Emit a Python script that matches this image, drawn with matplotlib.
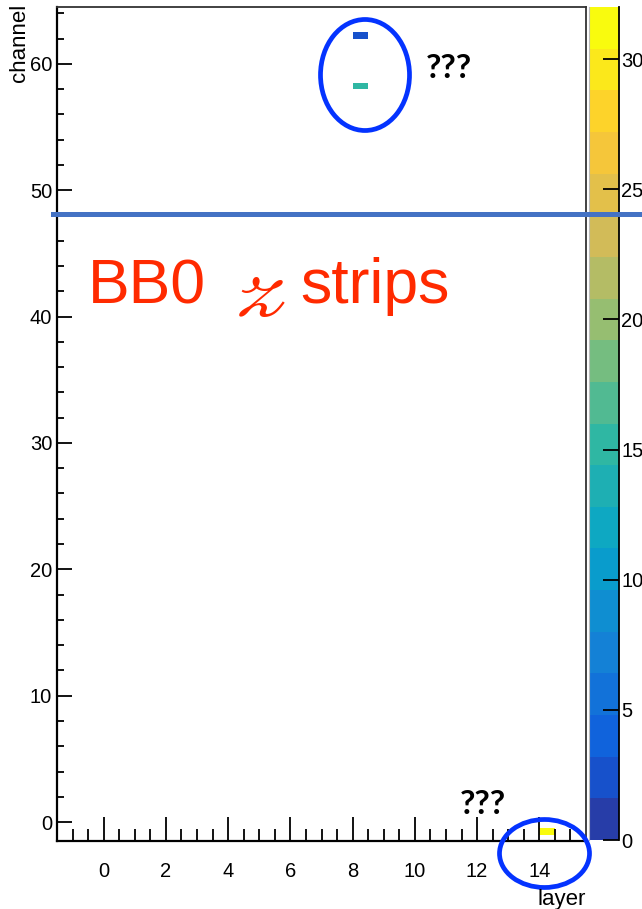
import numpy as np
import matplotlib
matplotlib.use("Agg")
import matplotlib.pyplot as plt
from matplotlib.colors import LinearSegmentedColormap, ListedColormap, BoundaryNorm
from matplotlib.patches import Ellipse
from matplotlib.lines import Line2D

# ---- data (bin centres of filled cells and their contents) ----
layers = [8.25, 8.25, 14.25]
channels = [62.25, 58.25, -0.75]
counts = [3, 15, 32]

x_ticks_major = [0, 2, 4, 6, 8, 10, 12, 14]
y_ticks_major = [0, 10, 20, 30, 40, 50, 60]
z_ticks = [0, 5, 10, 15, 20, 25, 30]
x_label = "layer"
y_label = "channel"
title_text = ["BB0", r"$\mathscr{z}$", "strips"]
note_text = "???"

# ---- ROOT kBird palette ----
stops = [0.0, 0.125, 0.25, 0.375, 0.5, 0.625, 0.75, 0.875, 1.0]
red = [0.2082, 0.0592, 0.0780, 0.0232, 0.1802, 0.5301, 0.8186, 0.9956, 0.9764]
green = [0.1664, 0.3599, 0.5041, 0.6419, 0.7178, 0.7492, 0.7328, 0.7862, 0.9832]
blue = [0.5293, 0.8684, 0.8385, 0.7914, 0.6425, 0.4662, 0.3499, 0.1968, 0.0539]
bird = LinearSegmentedColormap.from_list(
    "bird", [(s, (r, g, b)) for s, r, g, b in zip(stops, red, green, blue)])
ncont = 20
zmax = 32
band_cols = [bird((i + 1) / ncont) for i in range(ncont)]
cmap = ListedColormap(band_cols)
levels = np.linspace(0, zmax, ncont + 1)
norm = BoundaryNorm(levels, cmap.N)

xedges = np.arange(-1.5, 15.5 + 0.01, 0.5)
yedges = np.arange(-1.5, 64.5 + 0.01, 0.5)
H, _, _ = np.histogram2d(layers, channels, bins=[xedges, yedges], weights=counts)
H = np.ma.masked_equal(H.T, 0)

W, Hh = 642, 909
fig = plt.figure(figsize=(W / 100, Hh / 100), dpi=100)
plt.rcParams['font.family'] = ['Liberation Sans', 'DejaVu Sans']

def fx(px):
    return px / W

def fy(py):
    return (Hh - py) / Hh

ax = fig.add_axes([fx(57), fy(841), fx(586) - fx(57), fy(7) - fy(841)])
mesh = ax.pcolormesh(xedges, yedges, H, cmap=cmap, norm=norm)
ax.set_xlim(-1.5, 15.5)
ax.set_ylim(-1.5, 64.5)

ax.set_xticks(x_ticks_major)
ax.set_xticks(np.arange(-1.0, 15.5, 0.5), minor=True)
ax.set_yticks(y_ticks_major)
ax.set_yticks(np.arange(-0, 65, 2), minor=True)
ax.tick_params(axis='x', which='major', direction='in', length=17, width=1.3,
               pad=15, labelsize=14.5, top=False)
ax.tick_params(axis='x', which='minor', direction='in', length=8.5, width=1.3, top=False)
ax.tick_params(axis='y', which='major', direction='in', length=10.8, width=1.3,
               pad=3.5, labelsize=14.5, right=False)
ax.tick_params(axis='y', which='minor', direction='in', length=5, width=1.3, right=False)
for s in ['left', 'bottom']:
    ax.spines[s].set_linewidth(1.6)
    ax.spines[s].set_color('black')
for s in ['top', 'right']:
    ax.spines[s].set_linewidth(1.3)
    ax.spines[s].set_color('#333333')

# colour bar
cax = fig.add_axes([fx(589), fy(840), fx(619) - fx(589), fy(7) - fy(840)])
cb = fig.colorbar(mesh, cax=cax, ticks=z_ticks)
cb.outline.set_visible(False)
cax.set_ylim(0, zmax)
cax.tick_params(axis='y', direction='in', length=11.5, width=1.3, pad=1.5,
                labelsize=14.5, right=True, left=False)
cax.minorticks_off()
cax.add_line(Line2D([1, 1], [0, 1], transform=cax.transAxes, color='black',
                    lw=1.3, clip_on=False))
cax.add_line(Line2D([0, 0], [0, 1], transform=cax.transAxes, color='#bbbbbb',
                    lw=0.8, clip_on=False))

# axis titles
fig.text(fx(19), fy(4), y_label, rotation=90, ha='center', va='top', fontsize=16)
fig.text(fx(586), fy(889), x_label, ha='right', va='top', fontsize=16)

# annotations
red_c = '#ff2a00'
fig.text(fx(88), fy(303), title_text[0], color=red_c, fontsize=45, va='baseline', ha='left')
fig.text(fx(234), fy(316), title_text[1], color=red_c, fontsize=58, va='baseline', ha='left',
         math_fontfamily='stix')
fig.text(fx(300), fy(303), title_text[2], color=red_c, fontsize=45, va='baseline', ha='left')

fig.add_artist(Line2D([fx(53), 1.0], [fy(214), fy(214)], color='#4472c4', lw=3.6,
                      transform=fig.transFigure))

ell_c = '#0433ff'
fig.add_artist(Ellipse((fx(365), fy(75)), fx(89), 111 / Hh, transform=fig.transFigure,
                       fill=False, edgecolor=ell_c, lw=3.4))
fig.add_artist(Ellipse((fx(544.5), fy(853.5)), fx(90), 68 / Hh, transform=fig.transFigure,
                       fill=False, edgecolor=ell_c, lw=3.4))

fig.text(fx(449), fy(69), note_text, fontsize=24, fontweight='bold', ha='center',
         va='center', family=['Lato', 'DejaVu Sans'])
fig.text(fx(483), fy(805), note_text, fontsize=24, fontweight='bold', ha='center',
         va='center', family=['Lato', 'DejaVu Sans'])

fig.savefig("out.png", dpi=100)
